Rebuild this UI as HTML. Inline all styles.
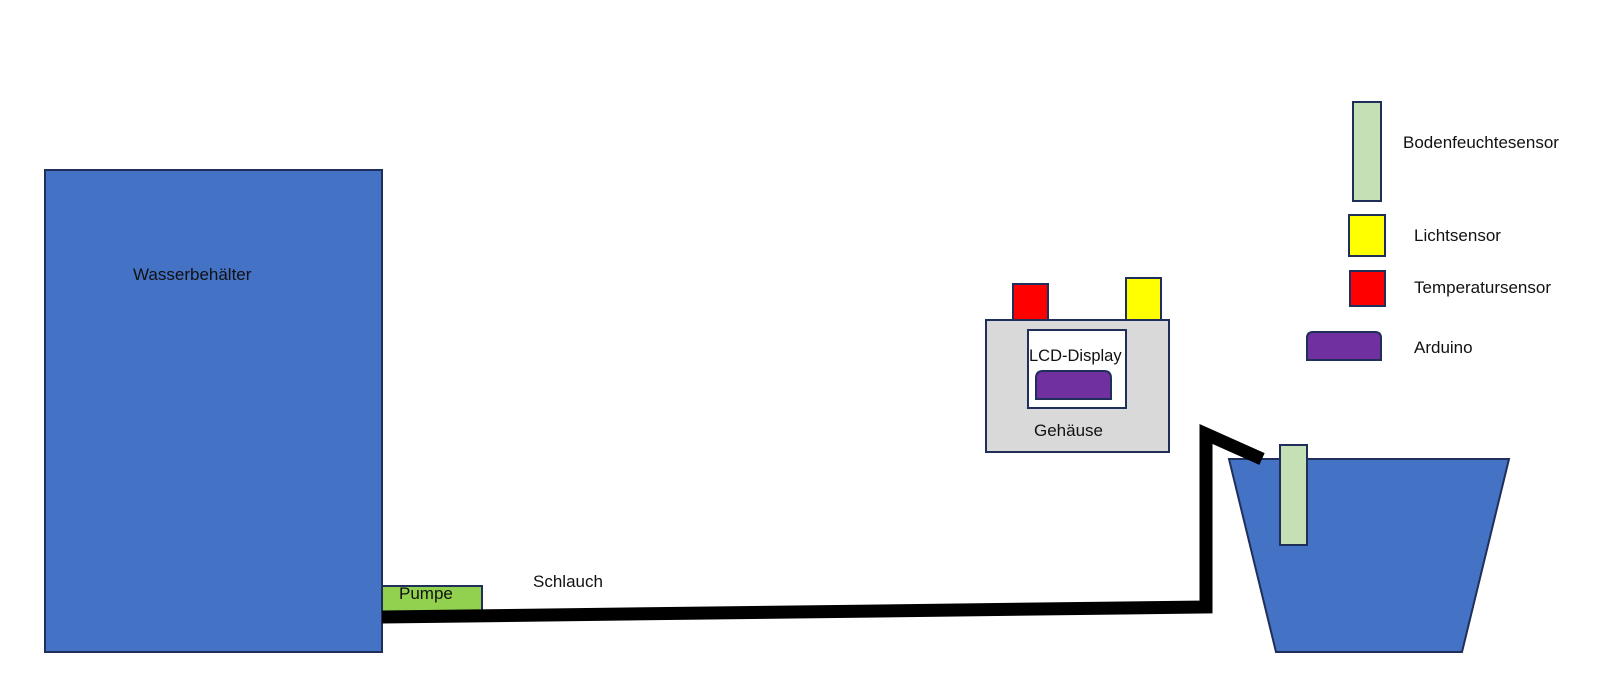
<!DOCTYPE html>
<html><head><meta charset="utf-8"><style>
html,body{margin:0;padding:0;background:#fff;width:1599px;height:694px;overflow:hidden}
svg text{font-family:"Liberation Sans",sans-serif;font-size:17px;fill:#111}
</style></head><body>
<svg width="1599" height="694" viewBox="0 0 1599 694" xmlns="http://www.w3.org/2000/svg">
<g stroke="#1f2f5a" stroke-width="2">
<rect x="45" y="170" width="337" height="482" fill="#4472c4"/>
<rect x="382" y="586" width="100" height="27" fill="#92d050"/>
<polygon points="1229,459 1509,459 1462,652 1276,652" fill="#4472c4"/>
<rect x="986" y="320" width="183" height="132" fill="#d9d9d9"/>
<rect x="1013" y="284" width="35" height="36" fill="#ff0000"/>
<rect x="1126" y="278" width="35" height="42" fill="#ffff00"/>
<rect x="1028" y="330" width="98" height="78" fill="#fff"/>
<path d="M1036,399 V378 Q1036,371 1043,371 H1104 Q1111,371 1111,378 V399 Z" fill="#7030a0"/>
<rect x="1353" y="102" width="28" height="99" fill="#c5e0b4"/>
<rect x="1349" y="215" width="36" height="41" fill="#ffff00"/>
<rect x="1350" y="271" width="35" height="35" fill="#ff0000"/>
<path d="M1307,360 V338 Q1307,332 1313,332 H1375 Q1381,332 1381,338 V360 Z" fill="#7030a0"/>
</g>
<polyline points="382,617 1206,607 1206,434 1262,459" fill="none" stroke="#000" stroke-width="13"/>
<rect x="1280" y="445" width="27" height="100" fill="#c5e0b4" stroke="#1f2f5a" stroke-width="2"/>
<text x="133" y="280">Wasserbehälter</text>
<text x="399" y="599">Pumpe</text>
<text x="533" y="587">Schlauch</text>
<text x="1029" y="361" style="font-size:16.5px">LCD-Display</text>
<text x="1034" y="436">Gehäuse</text>
<text x="1403" y="148">Bodenfeuchtesensor</text>
<text x="1414" y="241">Lichtsensor</text>
<text x="1414" y="293">Temperatursensor</text>
<text x="1414" y="353">Arduino</text>
</svg>
</body></html>
